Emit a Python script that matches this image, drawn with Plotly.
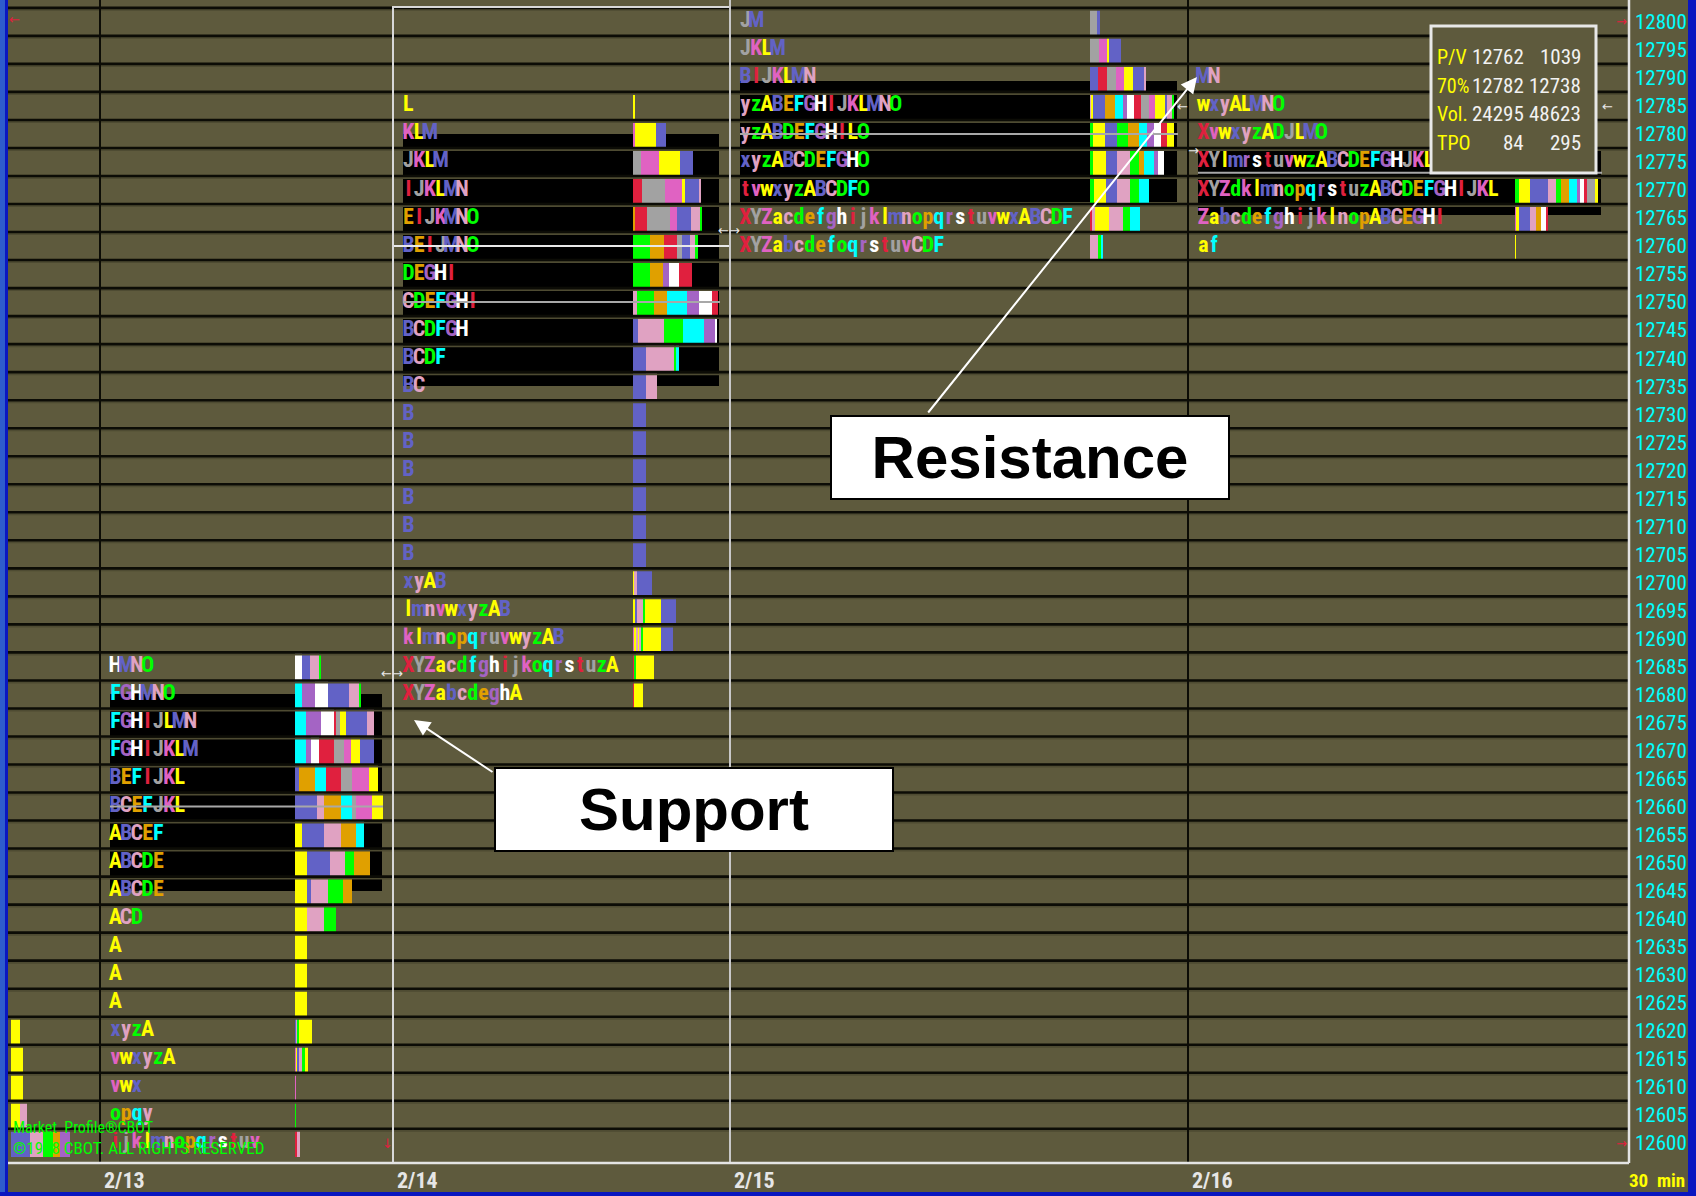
import plotly.graph_objects as go

# ---------------- DATA ----------------
price_ticks = list(range(12600, 12801, 5))
tick_text = [str(p) for p in price_ticks]
dates = ["2/13", "2/14", "2/15", "2/16"]

# prior (partial) session at far left: bar segments only
d12_prices = [12620, 12615, 12610, 12605, 12600]
d12_seg = ["A", "A", "A", "AC", "BCDEG"]
d12_vol = [[9.3], [12], [12], [9.3, 7], [19.3, 13.3, 10, 6.7, 10]]

# 2/13
d13_prices = [12685, 12680, 12675, 12670, 12665, 12660, 12655, 12650, 12645,
              12640, 12635, 12630, 12625, 12620, 12615, 12610, 12605, 12600]
d13_tpo = ["HMNO", "FGHMNO", "FGHIJLMN", "FGHIJKLM", "BEFIJKL", "BCEFJKL", "ABCEF",
           "ABCDE", "ABCDE", "ACD", "A", "A", "A", "xyzA", "vwxyzA", "vwx", "opqy",
           "ijklmnopqrstuv"]
d13_seg = ["HMNO", "FGHMNO", "FGHIJLMN", "FGHIJKLM", "BEFIJKL", "BCEFJKL", "ABCEF",
           "ABCDE", "ABCDE", "ACD", "A", "A", "A", "xyzA", "vwxyzA", "v", "o", "tn"]
d13_vol = [[7, 8, 9, 2], [7, 13, 13, 21, 10, 2], [11, 15, 13, 2, 4, 6, 21, 7],
           [11, 5, 8, 15, 10, 7, 9, 14], [4, 16, 11, 15, 11, 17, 9],
           [22, 7, 17, 11, 4, 16, 11], [7, 22, 17, 15, 8], [12, 23, 15, 9, 16],
           [12, 4, 17, 15, 9], [12, 17, 12], [12], [12], [12], [1, 1, 2, 13],
           [1, 1, 2, 3, 3, 3], [1], [1], [2, 3]]

# 2/14
d14_prices = list(range(12785, 12679, -5))
d14_tpo = ["L", "KLM", "JKLM", "IJKLMN", "EIJKMNO", "BEIJMNO", "DEGHI", "CDEFGHI",
           "BCDFGH", "BCDF", "BC", "B", "B", "B", "B", "B", "B", "xyAB", "lmnvwxyzAB",
           "klmnopqruvwyzAB", "XYZacdfghijkoqrstuzA", "XYZabcdeghA"]
d14_seg = ["L", "KLM", "JKLM", "IJKLMN", "EIJKMNO", "DEIJMNO", "DEGHI", "CDEFGHI",
           "BCDFGH", "BCDF", "BC", "B", "B", "B", "B", "B", "B", "AyB", "lmyzAB",
           "klnwyzAB", "XzA", "XA"]
d14_vol = [[2], [2, 21, 10], [8, 18, 21, 13], [9, 23, 17, 3, 14, 2],
           [2, 12, 23, 7, 14, 9, 2], [17, 14, 13, 5, 8, 5, 3], [17, 13, 6, 10, 13],
           [4, 17, 13, 20, 12, 13, 6], [5, 26, 19, 21, 11, 2], [13, 28, 2, 3], [13, 11],
           [13], [13], [13], [13], [13], [13], [1.5, 2.5, 15],
           [2.3, 2.3, 5.3, 2.3, 16, 14.7], [1.5, 1.5, 2, 1.5, 2, 2, 17.7, 12.3],
           [1.3, 1.7, 18.3], [1.3, 9.3]]

# 2/15
d15_prices = [12800, 12795, 12790, 12785, 12780, 12775, 12770, 12765, 12760]
d15_tpo = ["JM", "JKLM", "BIJKLMN", "yzABEFGHIJKLMNO", "yzABDEFGHILO", "xyzABCDEFGHO",
           "tvwxyzABCDFO", "XYZacdefghijklmnopqrstuvwxABCDF", "XYZabcdefoqrstuvCDF"]
d15_seg = ["JM", "JKLM", "BIJKLMN", "yABEFGHIJKLMNO", "zABDEFGHIL", "zABCDEFGH",
           "zABCDF", "XcACDF", "CDF"]
d15_vol = [[7, 3], [9, 8, 2, 12], [8, 9, 9, 8, 9, 11, 2],
           [1, 2, 12.3, 10, 8.3, 4.3, 6.3, 7.7, 7.7, 5.7, 10, 2.3, 5.3, 1.3],
           [3.3, 12, 12.3, 11, 10.7, 8.3, 6.7, 6.7, 6.7, 6.7],
           [3.3, 13.3, 11, 13.3, 8.3, 5, 10, 4.3, 5.7],
           [4.3, 12.3, 11, 13.3, 8.3, 10], [2.5, 2.5, 14.7, 13.3, 7.7, 10], [8.7, 2.3, 2.4]]

# 2/16
d16_prices = [12790, 12785, 12780, 12775, 12770, 12765, 12760]
d16_tpo = ["MN", "wxyALMNO", "XvwxyzADJLMO", "XYlmrstuvwzABCDEFGHJKL",
           "XYZdklmnopqrstuzABCDEFGHIJKL", "ZabcdefghijklnopABCEGHI", "af"]
d16_seg = ["", "", "", "", "zABCDEFGHIJL", "ZABCEHI", "a"]
d16_vol = [[], [], [], [], [4.3, 11.3, 17.7, 8.3, 5, 8.3, 7.3, 3.3, 4.3, 2.3, 8.7, 2.3],
           [1.7, 2.7, 11.3, 5.3, 5.7, 4.3, 2.3], [1]]

# value area / point of control per session
va_high = [12680, 12780, 12789.5, 12777.4]
va_low = [12645, 12735, 12767.9, 12765.5]
poc_price = [12660, 12750, 12780, 12773.1]
settle_214 = 12760

info_labels = ["P/V", "70%", "Vol.", "TPO"]
info_col1 = ["12762", "12782", "24295", "84"]
info_col2 = ["1039", "12738", "48623", "295"]

# ---------------- LAYOUT / STYLE ----------------
W, H = 1696, 1196
ML, MR, MT, MB = 8, 67, 0, 33
PW, PH = W - ML - MR, H - MT - MB
Y_TOP, Y_BOT = 12803.9, 12596.4
X_L, X_R = ML, W - MR


def py(pix):
    return Y_TOP - pix / PH * (Y_TOP - Y_BOT)


def pxp(pix):  # pixel x -> paper
    return (pix - ML) / PW


def pyp(pix):  # pixel y -> paper
    return (PH - pix) / PH


OLIVE = "#5E5A3D"
CYCLE = ["#FFFF00", "#6262C6", "#E0A2C2", "#00FF00", "#E0A000", "#00FFFF",
         "#A464C4", "#FFFFFF", "#E0203E", "#A2A2A2", "#E062C2"]
NARROW = "Liberation Sans Narrow, Roboto Condensed, DejaVu Sans Condensed, Arial Narrow, sans-serif"


def tpo_color(ch):
    if ch in "XYZ":
        return CYCLE[8 + "XYZ".index(ch)]
    if ch.isupper():
        return CYCLE[(ord(ch) - 65) % 11]
    return CYCLE[(ord(ch) - 97) % 11]


CELL = 10.74
day_sep = [100, 393, 730, 1188]
letter_x0 = [110, 403, 740, 1198]
bar_x0 = [10.7, 295, 632.7, 1089.5, 1514.5]
va_x = [(110, 382), (403, 719), (740, 1177), (1198, 1601)]
poc_x = [(110, 383), (403, 720), (740, 1178), (1198, 1602)]

sessions_tpo = [(d13_prices, d13_tpo), (d14_prices, d14_tpo),
                (d15_prices, d15_tpo), (d16_prices, d16_tpo)]
sessions_bar = [(d12_prices, d12_seg, d12_vol), (d13_prices, d13_seg, d13_vol),
                (d14_prices, d14_seg, d14_vol), (d15_prices, d15_seg, d15_vol),
                (d16_prices, d16_seg, d16_vol)]

fig = go.Figure()

# value-area black bands
fig.add_trace(go.Bar(
    orientation="h",
    y=[(h + l) / 2 for h, l in zip(va_high, va_low)],
    width=[h - l for h, l in zip(va_high, va_low)],
    base=[a for a, b in va_x], x=[b - a for a, b in va_x],
    marker=dict(color="#000000", line=dict(width=0)), hoverinfo="skip", showlegend=False))

# TPO / volume histogram segments
bx, by, bb, bc = [], [], [], []
for (prices, segs, vols), x0 in zip(sessions_bar, bar_x0):
    for p, s, v in zip(prices, segs, vols):
        cur = x0
        for ch, w in zip(s, v):
            by.append(p); bx.append(w); bb.append(cur); bc.append(tpo_color(ch))
            cur += w
fig.add_trace(go.Bar(orientation="h", y=by, x=bx, base=bb, width=5,
                     marker=dict(color=bc, line=dict(width=0)),
                     hoverinfo="skip", showlegend=False))

# TPO letters
lx, ly, lt, lc = [], [], [], []
for (prices, tpos), x0 in zip(sessions_tpo, letter_x0):
    for p, s in zip(prices, tpos):
        for i, ch in enumerate(s):
            lx.append(x0 + (i + 0.5) * CELL); ly.append(p)
            lt.append(ch); lc.append(tpo_color(ch))
fig.add_trace(go.Scatter(x=lx, y=ly, text=lt, mode="text", textposition="middle center",
                         textfont=dict(family=NARROW, size=22, color=lc, weight="bold"),
                         hoverinfo="skip", showlegend=False))

# POC lines and settlement line
for p, (a, b) in zip(poc_price, poc_x):
    fig.add_trace(go.Scatter(x=[a, b], y=[p, p], mode="lines",
                             line=dict(color="#A8A8A8", width=2),
                             hoverinfo="skip", showlegend=False))
fig.add_trace(go.Scatter(x=[day_sep[1], day_sep[2]], y=[settle_214, settle_214], mode="lines",
                         line=dict(color="#E8E8E8", width=2),
                         hoverinfo="skip", showlegend=False))

shapes = []
# horizontal grid (black with olive under-line)
off = 2 * (Y_TOP - Y_BOT) / PH
for t in price_ticks + [12805]:
    b = t - 2.5
    if b < 12600:
        continue
    shapes.append(dict(type="line", xref="paper", yref="y", x0=0, x1=1, y0=b - off, y1=b - off,
                       line=dict(color="#4E4B32", width=2), layer="above"))
    shapes.append(dict(type="line", xref="paper", yref="y", x0=0, x1=1, y0=b, y1=b,
                       line=dict(color="#0C0C06", width=2.6), layer="above"))
# session separators
for xs in (day_sep[0], day_sep[3]):
    shapes.append(dict(type="line", xref="x", yref="paper", x0=xs, x1=xs, y0=0, y1=1,
                       line=dict(color="#0C0C06", width=2), layer="above"))
shapes.append(dict(type="rect", xref="x", yref="y", x0=day_sep[1], x1=day_sep[2],
                   y0=Y_BOT, y1=py(7), line=dict(color="#D8D8D8", width=2), layer="above"))
shapes.append(dict(type="line", xref="x", yref="paper", x0=day_sep[2], x1=day_sep[2],
                   y0=0, y1=1, line=dict(color="#C8C8C8", width=2), layer="above"))
# plot frame (right and bottom)
shapes.append(dict(type="line", xref="paper", yref="paper", x0=1, x1=1, y0=0, y1=1,
                   line=dict(color="#E4E4E4", width=2.5), layer="above"))
shapes.append(dict(type="line", xref="paper", yref="paper", x0=0, x1=1, y0=0, y1=0,
                   line=dict(color="#E4E4E4", width=2.5), layer="above"))
# blue window borders
shapes.append(dict(type="rect", xref="paper", yref="paper", x0=pxp(0), x1=pxp(5),
                   y0=pyp(H), y1=pyp(0), fillcolor="#2E5CCC", line=dict(width=0), layer="above"))
shapes.append(dict(type="rect", xref="paper", yref="paper", x0=pxp(5), x1=pxp(8),
                   y0=pyp(H), y1=pyp(0), fillcolor="#0A16C0", line=dict(width=0), layer="above"))
shapes.append(dict(type="rect", xref="paper", yref="paper", x0=pxp(1688), x1=pxp(W),
                   y0=pyp(H), y1=pyp(0), fillcolor="#0A16C0", line=dict(width=0), layer="above"))
shapes.append(dict(type="rect", xref="paper", yref="paper", x0=pxp(0), x1=pxp(W),
                   y0=pyp(H), y1=pyp(1192), fillcolor="#0A16C0", line=dict(width=0), layer="above"))
# info box
shapes.append(dict(type="rect", xref="x", yref="y", x0=1431, x1=1596, y0=py(173), y1=py(26),
                   fillcolor=OLIVE, line=dict(color="#E8E8E8", width=3), layer="above"))

ann = []
for d, xs in zip(dates, day_sep):
    ann.append(dict(text=d, x=xs + 2, xref="x", y=pyp(1181), yref="paper", xanchor="left",
                    yanchor="middle", showarrow=False,
                    font=dict(family=NARROW, size=22, color="#E6E6E6", weight="bold")))
ann.append(dict(text="30  min", x=pxp(1627), xref="paper", y=pyp(1181), yref="paper",
                xanchor="left", yanchor="middle", showarrow=False,
                font=dict(family=NARROW, size=19, color="#FFFF00", weight="bold")))
for i, (lab, v1, v2) in enumerate(zip(info_labels, info_col1, info_col2)):
    yy = py(57 + 28.6 * i)
    ann.append(dict(text=lab, x=1435, y=yy, xref="x", yref="y", xanchor="left", yanchor="middle",
                    showarrow=False, font=dict(family=NARROW, size=20, color="#FFFF00")))
    ann.append(dict(text=v1, x=1526, y=yy, xref="x", yref="y", xanchor="right", yanchor="middle",
                    showarrow=False, font=dict(family=NARROW, size=21, color="#F2F2F2")))
    ann.append(dict(text=v2, x=1583, y=yy, xref="x", yref="y", xanchor="right", yanchor="middle",
                    showarrow=False, font=dict(family=NARROW, size=21, color="#F2F2F2")))
# copyright
ann.append(dict(text="Market  Profile®CBOT", x=11, y=py(1127), xref="x", yref="y",
                xanchor="left", yanchor="middle", showarrow=False,
                font=dict(family=NARROW, size=16, color="#00FF00")))
ann.append(dict(text="©1998 CBOT. ALL RIGHTS RESERVED", x=11, y=py(1148), xref="x", yref="y",
                xanchor="left", yanchor="middle", showarrow=False,
                font=dict(family=NARROW, size=17, color="#00FF00")))
# small markers
for txt, xx, yy, col in [("←", 14, 19, "#E0203E"), ("→", 1621, 21, "#E0203E"),
                         ("→", 1621, 1143, "#E0203E"), ("↓", 387, 1143, "#E0203E"),
                         ("←→", 392, 673, "#E8E8E8"), ("←→", 729, 230, "#E8E8E8"),
                         ("←", 1182, 106, "#E8E8E8"), ("→", 1193, 150, "#E8E8E8"),
                         ("←", 1607, 106, "#E8E8E8")]:
    ann.append(dict(text=txt, x=xx, y=py(yy), xref="x", yref="y", showarrow=False,
                    font=dict(family="DejaVu Sans", size=13, color=col)))
# arrows
ann.append(dict(text="", x=414, y=py(720), ax=494, ay=py(773), xref="x", yref="y",
                axref="x", ayref="y", showarrow=True, arrowhead=2, arrowsize=1.6,
                arrowwidth=2, arrowcolor="#FFFFFF"))
ann.append(dict(text="", x=1197, y=py(77), ax=927, ay=py(414), xref="x", yref="y",
                axref="x", ayref="y", showarrow=True, arrowhead=2, arrowsize=1.6,
                arrowwidth=2, arrowcolor="#FFFFFF"))
# call-out boxes
for txt, cx, cy in [("Support", 693.5, 809.5), ("Resistance", 1030, 457.5)]:
    ann.append(dict(text=txt, x=cx, y=py(cy), xref="x", yref="y", showarrow=False,
                    xanchor="center", yanchor="middle", width=394, height=79,
                    bgcolor="#FFFFFF", bordercolor="#000000", borderwidth=2, borderpad=1,
                    font=dict(family="Liberation Sans, Arial, sans-serif", size=60,
                              color="#000000", weight="bold")))

fig.update_layout(
    width=W, height=H, autosize=False,
    margin=dict(l=ML, r=MR, t=MT, b=MB, pad=0),
    paper_bgcolor=OLIVE, plot_bgcolor=OLIVE,
    barmode="overlay", bargap=0, hovermode=False, showlegend=False,
    xaxis=dict(range=[X_L, X_R], visible=False, fixedrange=True),
    yaxis=dict(range=[Y_BOT, Y_TOP], side="right", tickvals=price_ticks, ticktext=tick_text,
               showgrid=False, zeroline=False, ticks="", showline=False,
               ticklabelstandoff=5,
               tickfont=dict(family=NARROW, size=21, color="#00FFFF"), fixedrange=True),
    shapes=shapes, annotations=ann,
)

fig.write_html(
    "out.html",
    config={"displayModeBar": False, "staticPlot": True},
    post_script="document.body.style.margin='0px';document.body.style.overflow='hidden';"
                "document.body.style.background='#5E5A3D';",
)
